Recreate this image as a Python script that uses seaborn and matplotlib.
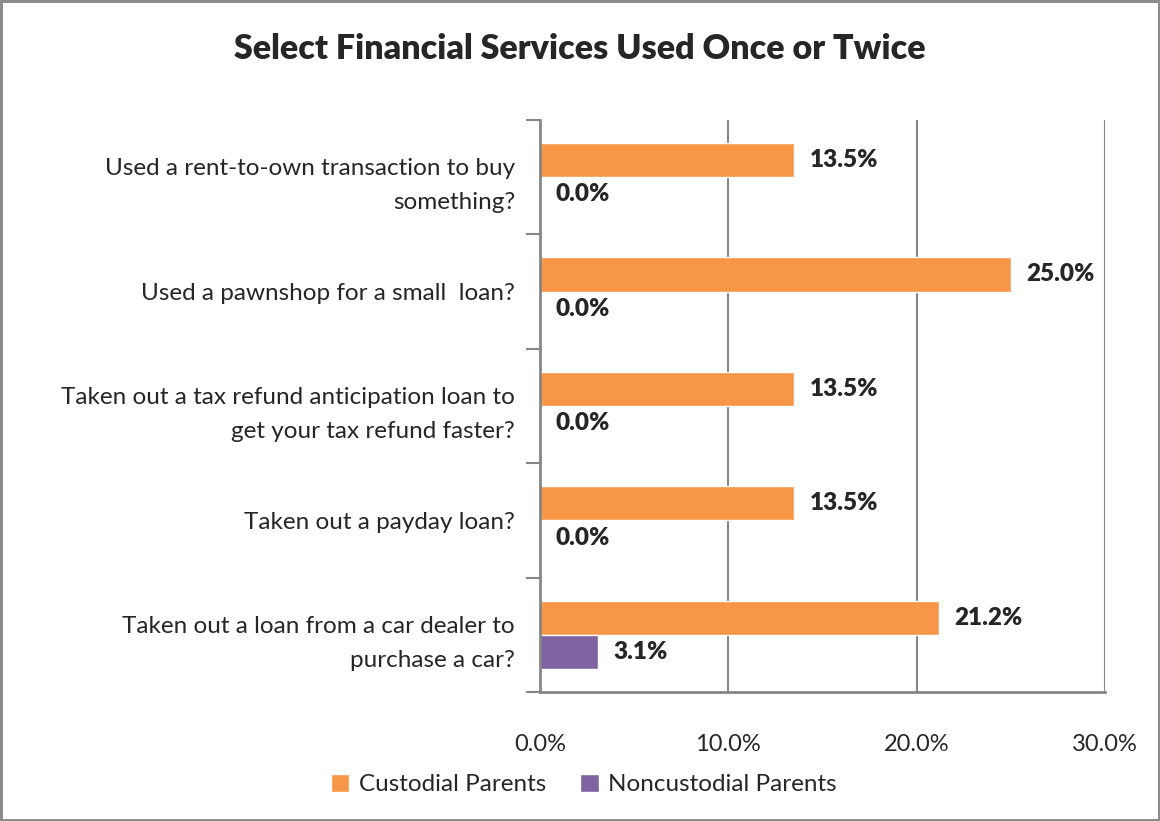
import numpy as np
import pandas as pd
import matplotlib.pyplot as plt
import seaborn as sns

categories = [
    "Used a rent-to-own transaction to buy\nsomething?",
    "Used a pawnshop for a small  loan?",
    "Taken out a tax refund anticipation loan to\nget your tax refund faster?",
    "Taken out a payday loan?",
    "Taken out a loan from a car dealer to\npurchase a car?",
]
custodial = [13.5, 25.0, 13.5, 13.5, 21.2]
noncustodial = [0.0, 0.0, 0.0, 0.0, 3.1]
groups = ["Custodial Parents", "Noncustodial Parents"]
colors = ["#F79646", "#8064A2"]
xticks = [0, 10, 20, 30]

df = pd.DataFrame({
    "Service": categories * 2,
    "Percent": custodial + noncustodial,
    "Group": [groups[0]] * len(categories) + [groups[1]] * len(categories),
})

sns.set_style("white")
plt.rcParams['font.family'] = ['Lato', 'DejaVu Sans']

fig = plt.figure(figsize=(11.6, 8.21), dpi=100)
fig.patch.set_edgecolor('#8c8c8c')
fig.patch.set_linewidth(2.5)
ax = fig.add_axes([0.4655, 0.157, 0.487, 0.697])

sns.barplot(data=df, y="Service", x="Percent", hue="Group", hue_order=groups,
            palette=colors, orient='h', width=0.6, saturation=1, ax=ax,
            legend=True)

for cont in ax.containers:
    ax.bar_label(cont, fmt='%.1f%%', padding=11, fontsize=17.5, fontweight='heavy')

ax.set_xlim(0, 30)
ax.set_ylim(len(categories) - 0.5, -0.5)
ax.set_xticks(xticks)
ax.set_xticklabels([f"{v:.1f}%" for v in xticks], fontsize=17)
ax.tick_params(axis='x', length=0, pad=30)
ax.set_yticks(range(len(categories)))
ax.set_yticklabels(categories, fontsize=17.5, linespacing=1.75)
ax.tick_params(axis='y', which='major', length=0, pad=18)
ax.set_yticks(np.arange(-0.5, len(categories)), minor=True)
ax.tick_params(axis='y', which='minor', length=10, width=1.5, color='#868686', left=True)
ax.xaxis.grid(True, color='#868686', linewidth=1.5)
ax.set_axisbelow(True)
ax.set_xlabel("")
ax.set_ylabel("")
for side in ['top', 'right']:
    ax.spines[side].set_visible(False)
for side in ['left', 'bottom']:
    ax.spines[side].set_color('#868686')
    ax.spines[side].set_linewidth(2)

ax.legend(loc='upper center', bbox_to_anchor=(0.078, -0.105), ncol=2, frameon=False,
          fontsize=17.5, handlelength=0.75, handleheight=0.75, columnspacing=1.4,
          handletextpad=0.4)

fig.text(0.5, 0.94, "Select Financial Services Used Once or Twice", ha='center',
         va='center', fontsize=24.5, fontweight='heavy')

fig.savefig('out.png', dpi=100, edgecolor=fig.get_edgecolor())
